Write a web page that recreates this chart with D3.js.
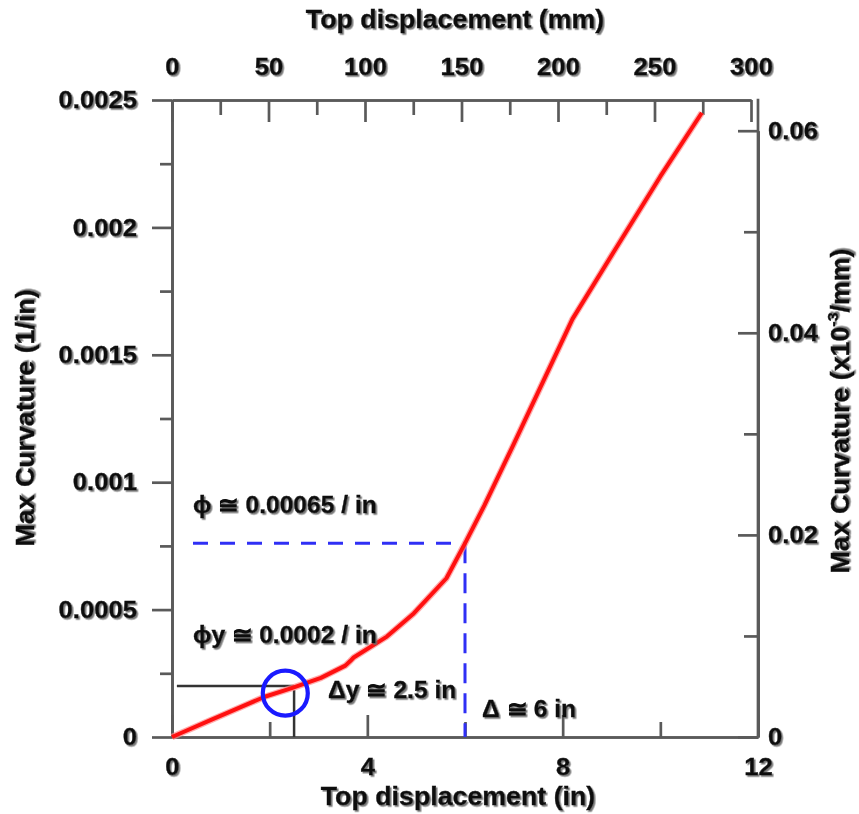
<!DOCTYPE html>
<html>
<head>
<meta charset="utf-8">
<script src="https://cdn.jsdelivr.net/npm/d3@7"></script>
<style>
  html, body { margin: 0; padding: 0; background: #fff; }
  svg { display: block; }
  .axis path, .axis line { stroke: #5a5a5a; stroke-width: 2.7; }
  text { font-family: "Liberation Sans", Arial, sans-serif; font-weight: bold; fill: #111; stroke: #111; stroke-width: 0.35; }
</style>
</head>
<body>
<svg id="chart" width="859" height="814"></svg>
<script>
// Top displacement (in) vs. maximum curvature (1/in)
const dispIn    = [0, 0.8, 1.9, 2.45, 3.05, 3.55, 3.65, 3.72, 4.4, 4.95, 5.62, 6.0, 6.4, 7.0, 8.2, 9.0, 10.0, 10.85];
const curvature = [0, 0.000067, 0.000158, 0.000192, 0.000232, 0.00028, 0.000298, 0.000312, 0.000394, 0.000485, 0.000623, 0.00076, 0.00091, 0.00115, 0.00164, 0.00189, 0.0022, 0.00245];

// Tick values for the four axes
const xTicksMajor   = [0, 4, 8, 12];
const xTicksMinor   = [2, 6, 10];
const mmTicksMajor  = [0, 50, 100, 150, 200, 250, 300];
const mmTicksMinor  = [25, 75, 125, 175, 225, 275];
const yTicksMajor   = [0, 0.0005, 0.001, 0.0015, 0.002, 0.0025];
const yTicksMinor   = [0.00025, 0.00075, 0.00125, 0.00175, 0.00225];
const yRTicksMajor  = [0, 0.02, 0.04, 0.06];
const yRTicksMinor  = [0.01, 0.03, 0.05];

// Yield and ultimate points
const yieldDisp = 2.5, yieldCurv = 0.0002;
const ultDisp = 6.0, ultCurv = curvature[dispIn.indexOf(6.0)];
const yieldMarker = [2.32, 0.000172];

const svg = d3.select("#chart");
const defs = svg.append("defs");
const shadow = defs.append("filter").attr("id", "shadow")
  .attr("x", "-10%").attr("y", "-20%").attr("width", "130%").attr("height", "150%");
shadow.append("feDropShadow").attr("dx", 1.6).attr("dy", 1.6)
  .attr("stdDeviation", 0.7).attr("flood-color", "#6a6a6a").attr("flood-opacity", 0.9);

const L = 172, R = 758, T = 100, B = 737;
const x   = d3.scaleLinear().domain([0, 12]).range([L, R]);
const xmm = d3.scaleLinear().domain([0, 300]).range([L, 751]);
const y   = d3.scaleLinear().domain([0, 0.0025]).range([B, T]);
const yR  = d3.scaleLinear().domain([0, 0.06]).range([B, 130.7]);

const fmt = d => d === 0 ? "0" : String(+d.toFixed(5));

// Minor ticks first, so major ticks/axes sit on top
svg.append("g").attr("class", "axis").attr("transform", `translate(0,${B})`)
  .call(d3.axisBottom(x).tickValues(xTicksMinor).tickSizeInner(-15).tickSizeOuter(0).tickFormat(""));
svg.append("g").attr("class", "axis").attr("transform", `translate(0,${T})`)
  .call(d3.axisTop(xmm).tickValues(mmTicksMinor).tickSizeInner(-15).tickSizeOuter(0).tickFormat(""));
svg.append("g").attr("class", "axis").attr("transform", `translate(${L},0)`)
  .call(d3.axisLeft(y).tickValues(yTicksMinor).tickSizeInner(12).tickSizeOuter(0).tickFormat(""));
svg.append("g").attr("class", "axis").attr("transform", `translate(${R},0)`)
  .call(d3.axisRight(yR).tickValues(yRTicksMinor).tickSizeInner(-14).tickSizeOuter(0).tickFormat(""));

svg.append("g").attr("class", "axis").attr("transform", `translate(0,${B})`)
  .call(d3.axisBottom(x).tickValues(xTicksMajor).tickSizeInner(-22).tickSizeOuter(0).tickPadding(21).tickFormat(fmt));
svg.append("g").attr("class", "axis").attr("transform", `translate(0,${T})`)
  .call(d3.axisTop(xmm).tickValues(mmTicksMajor).tickSizeInner(-22).tickSizeOuter(0).tickPadding(25).tickFormat(fmt));
svg.append("g").attr("class", "axis").attr("transform", `translate(${L},0)`)
  .call(d3.axisLeft(y).tickValues(yTicksMajor).tickSizeInner(20).tickSizeOuter(0).tickPadding(15).tickFormat(fmt));
svg.append("g").attr("class", "axis").attr("transform", `translate(${R},0)`)
  .call(d3.axisRight(yR).tickValues(yRTicksMajor).tickSizeInner(-20).tickSizeOuter(0).tickPadding(10).tickFormat(fmt));
// close the frame at the top of the right axis
svg.append("line").attr("x1", R).attr("x2", R).attr("y1", T - 1.35).attr("y2", B)
  .attr("stroke", "#5a5a5a").attr("stroke-width", 2.7);

svg.selectAll(".axis text").attr("font-size", 24).attr("fill", "#111")
  .attr("font-family", "Liberation Sans, Arial, sans-serif").attr("filter", "url(#shadow)");

// Annotation guides
svg.append("line")
  .attr("x1", x(0.1)).attr("x2", x(yieldDisp)).attr("y1", y(yieldCurv)).attr("y2", y(yieldCurv))
  .attr("stroke", "#333").attr("stroke-width", 2.5);
svg.append("line")
  .attr("x1", x(yieldDisp)).attr("x2", x(yieldDisp)).attr("y1", y(yieldCurv) + 4).attr("y2", y(0))
  .attr("stroke", "#333").attr("stroke-width", 2.5);

svg.append("line")
  .attr("x1", x(0.43)).attr("x2", x(ultDisp)).attr("y1", y(ultCurv)).attr("y2", y(ultCurv))
  .attr("stroke", "#2f2ff5").attr("stroke-width", 3).attr("stroke-dasharray", "15,12");
svg.append("line")
  .attr("x1", x(ultDisp)).attr("x2", x(ultDisp)).attr("y1", y(ultCurv)).attr("y2", y(0))
  .attr("stroke", "#2f2ff5").attr("stroke-width", 3).attr("stroke-dasharray", "20,10");

// Curvature curve
const line = d3.line().x((d, i) => x(dispIn[i])).y(d => y(d));
svg.append("path").datum(curvature).attr("d", line)
  .attr("fill", "none").attr("stroke", "#ff8a8a").attr("stroke-width", 6.5)
  .attr("stroke-linejoin", "round").attr("opacity", 0.7);
svg.append("path").datum(curvature).attr("d", line)
  .attr("fill", "none").attr("stroke", "#ff1010").attr("stroke-width", 4)
  .attr("stroke-linejoin", "round");

// Yield marker circle
svg.append("circle").attr("cx", x(yieldMarker[0])).attr("cy", y(yieldMarker[1])).attr("r", 22.5)
  .attr("fill", "none").attr("stroke", "#1a1aff").attr("stroke-width", 4.2);

// Text labels
function label(txt, px, py, size) {
  return svg.append("text").attr("x", px).attr("y", py).attr("font-size", size)
    .attr("filter", "url(#shadow)").text(txt);
}
label("ϕ ≅ 0.00065 / in", 193, 513, 23);
label("ϕy ≅ 0.0002 / in", 193, 643, 23);
label("Δy ≅ 2.5 in", 328, 698, 23);
label("Δ ≅ 6 in", 482, 717, 23);

label("Top displacement (mm)", 455, 28, 25).attr("text-anchor", "middle");
label("Top displacement (in)", 458, 805, 25).attr("text-anchor", "middle");
label("Max Curvature (1/in)", 0, 0, 25).attr("text-anchor", "middle")
  .attr("transform", "translate(25,418) rotate(-90)").attr("dy", "0.36em");
const rt = label("", 0, 0, 25).attr("text-anchor", "middle")
  .attr("transform", "translate(840,411) rotate(-90)").attr("dy", "0.36em");
rt.append("tspan").text("Max Curvature (x10");
rt.append("tspan").attr("font-size", 15).attr("dy", "-0.75em").text("-3");
rt.append("tspan").attr("dy", "0.45em").text("/mm)");

// Widen glyphs slightly to the face used in the plot
svg.selectAll("text").each(function () {
  const len = this.getComputedTextLength();
  if (len > 0) d3.select(this).attr("textLength", len * 1.07).attr("lengthAdjust", "spacingAndGlyphs");
});
</script>
</body>
</html>
